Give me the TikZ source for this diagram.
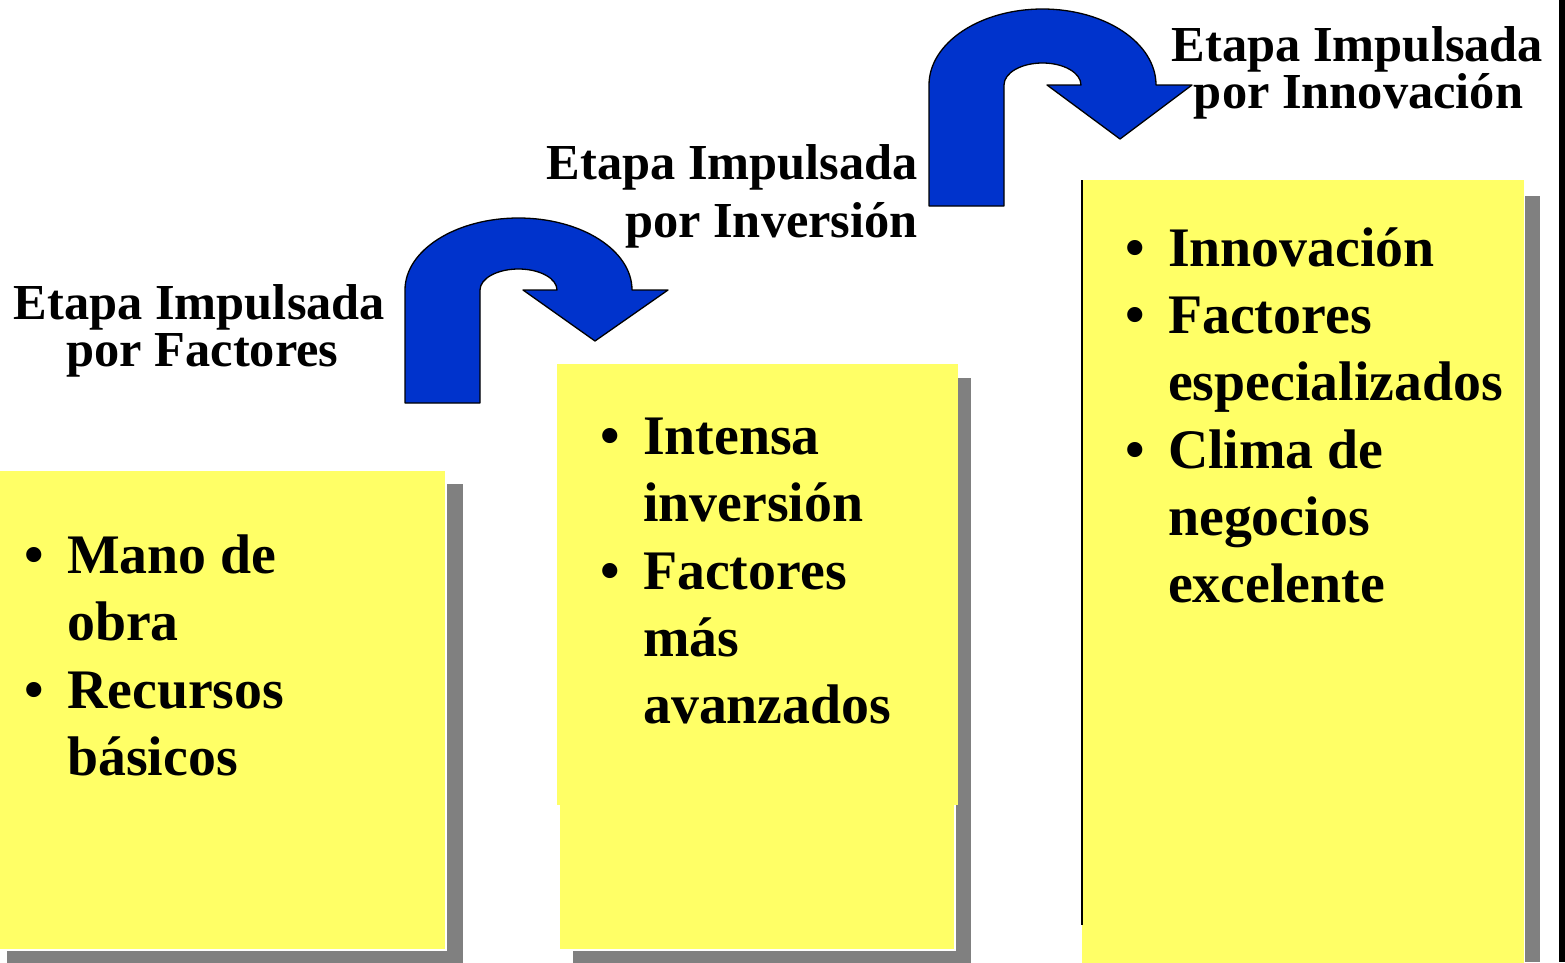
\documentclass[tikz,border=0pt]{standalone}
\usepackage{fontspec}
\setmainfont{Liberation Serif}
\definecolor{boxyellow}{HTML}{FFFF66}
\definecolor{shadowgray}{HTML}{808080}
\definecolor{arrowblue}{HTML}{0033CC}
\newcommand{\blt}{\makebox[43pt][l]{\textbullet}}
\begin{document}
\begin{tikzpicture}[x=1pt,y=-1pt,
  ttl/.style={inner sep=0pt,font=\fontsize{50.4}{47}\selectfont\bfseries},
  bx/.style={inner sep=0pt,anchor=base west,font=\fontsize{55.8}{67}\selectfont\bfseries},
  shadowbox/.style={fill=shadowgray,draw=none},
  yellowbox/.style={fill=boxyellow,draw=white,line width=1.2pt},
  uturn/.style={fill=arrowblue,draw=black,line width=1.3pt,line join=round}]
\useasboundingbox (0,0) rectangle (1565,962);
% right edge bar
\fill[black] (1559,0) rectangle (1565,962);
% box 1
\fill[shadowgray] (7,484) rectangle (463,964);
\path[yellowbox] (-3,470) rectangle (446,950);
% box 2
\fill[shadowgray] (573,378) rectangle (971,964);
\path[yellowbox] (559,700) rectangle (955,950);
\fill[boxyellow] (557,364) rectangle (958,805);
% box 3
\fill[shadowgray] (1525,196) rectangle (1540,962);
\fill[boxyellow] (1082,180) rectangle (1524,963);
\draw[black,line width=2pt] (1082,180) -- (1082,925);
% arrow 1
\path[uturn] (405,290) .. controls (405,250.2) and (455.8,218) .. (518.5,218)
  .. controls (581.2,218) and (632,250.2) .. (632,290)
  -- (668,290) -- (595,341) -- (523,290) -- (557,290)
  .. controls (557,278.4) and (539.8,269) .. (518.5,269)
  .. controls (497.2,269) and (480,278.4) .. (480,290)
  -- (480,403) -- (405,403) -- cycle;
% arrow 2
\path[uturn] (929,85) .. controls (929,43) and (979.8,9) .. (1042.5,9)
  .. controls (1105.2,9) and (1156,43) .. (1156,85)
  -- (1192,85) -- (1120,139) -- (1047,85) -- (1081,85)
  .. controls (1081,72.8) and (1063.8,63) .. (1042.5,63)
  .. controls (1021.2,63) and (1004,72.8) .. (1004,85)
  -- (1004,206) -- (929,206) -- cycle;
% titles
\node[ttl,anchor=base] (t1a) at (199.5,319) {Etapa Impulsada};
\node[ttl,anchor=base] (t1b) at (202.5,366) {por Factores};
\node[ttl,anchor=base east] (t2a) at (918,179) {Etapa Impulsada};
\node[ttl,anchor=base east] (t2b) at (918,237) {por Inversión};
\node[ttl,anchor=base] (t3a) at (1357.5,61) {Etapa Impulsada};
\node[ttl,anchor=base] (t3b) at (1358.5,108) {por Innovación};
% box 1 text
\node[bx] (b1a) at (24,573) {\blt Mano de};
\node[bx] (b1b) at (67,640) {obra};
\node[bx] (b1c) at (24,708) {\blt Recursos};
\node[bx] (b1d) at (67,775) {básicos};
% box 2 text
\node[bx] (b2a) at (600,454) {\blt Intensa};
\node[bx] (b2b) at (643,521) {inversión};
\node[bx] (b2c) at (600,589) {\blt Factores};
\node[bx] (b2d) at (643,656) {más};
\node[bx] (b2e) at (643,723) {avanzados};
% box 3 text
\node[bx] (b3a) at (1125,266) {\blt Innovación};
\node[bx] (b3b) at (1125,333) {\blt Factores};
\node[bx] (b3c) at (1168,400) {especializados};
\node[bx] (b3d) at (1125,468) {\blt Clima de};
\node[bx] (b3e) at (1168,535) {negocios};
\node[bx] (b3f) at (1168,602) {excelente};
\end{tikzpicture}
\end{document}
